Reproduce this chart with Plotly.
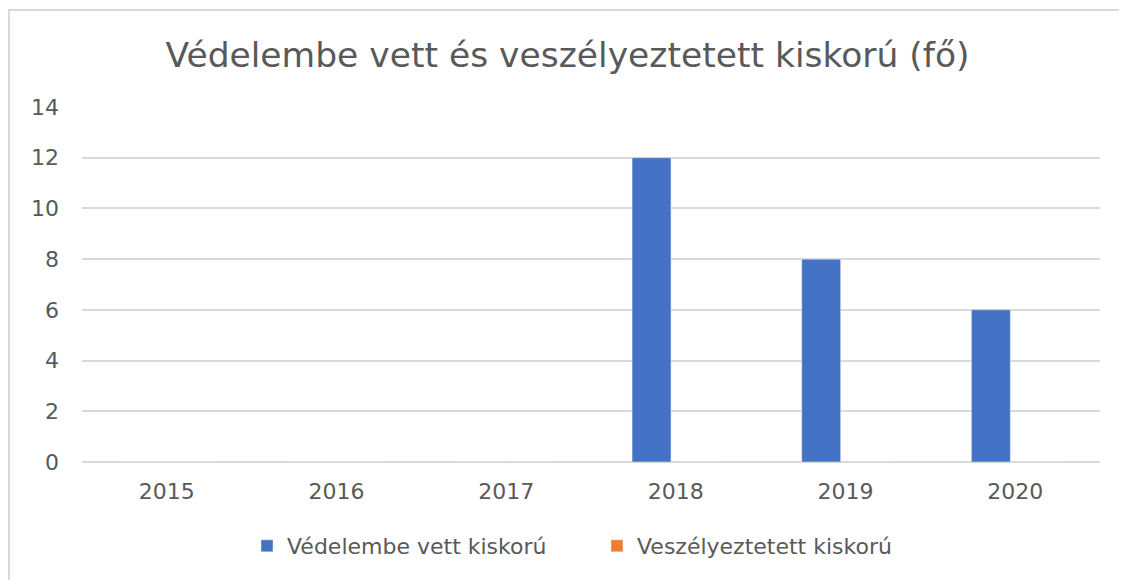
import plotly.graph_objects as go

years = ["2015", "2016", "2017", "2018", "2019", "2020"]
vedelembe = [0, 0, 0, 12, 8, 6]
veszelyeztetett = [0, 0, 0, 0, 0, 0]
series_names = ["Védelembe vett kiskorú", "Veszélyeztetett kiskorú"]
title_text = "Védelembe vett és veszélyeztetett kiskorú (fő)"

FONT = "DejaVu Sans"
GREY = "#595959"
OFF = 8  # page body margin

fig = go.Figure()
fig.add_trace(go.Bar(x=years, y=vedelembe, name=series_names[0], marker_color="#4472C4"))
fig.add_trace(go.Bar(x=years, y=veszelyeztetett, name=series_names[1], marker_color="#ED7D31"))

W, H = 1127 - OFF, 580 - OFF
ml, mt = 82 - OFF, 107 - OFF
mr, mb = 27, 118
pw, ph = W - ml - mr, H - mt - mb

def px(x):  # page x -> paper
    return (x - OFF - ml) / pw

def py(y):  # page y -> paper
    return (H - mb - (y - OFF)) / ph

fig.update_layout(
    width=W, height=H,
    margin=dict(l=ml, r=mr, t=mt, b=mb),
    paper_bgcolor="white", plot_bgcolor="white",
    barmode="group", bargap=0.427, bargroupgap=0.2,
    title=dict(text=title_text, x=0.5, xanchor="center", y=1 - (55 - OFF) / H, yanchor="middle",
               font=dict(family=FONT, size=34.5, color=GREY)),
    font=dict(family=FONT, color=GREY),
    showlegend=True,
    legend=dict(orientation="h", x=px(597), xanchor="center", y=py(546), yanchor="middle",
                font=dict(family=FONT, size=22, color=GREY), itemwidth=30,
                entrywidth=305, entrywidthmode="pixels",
                traceorder="normal"),
    xaxis=dict(showgrid=False, showline=False, ticks="", tickfont=dict(size=22, color=GREY),
               ticklabelstandoff=14, automargin=False),
    yaxis=dict(range=[0, 14], dtick=2, showgrid=True, gridcolor="#d9d9d9", gridwidth=2,
               zeroline=True, zerolinecolor="#d9d9d9", zerolinewidth=2,
               showline=False, ticks="", tickfont=dict(size=22, color=GREY),
               ticklabelstandoff=22, automargin=False),
    shapes=[dict(type="rect", xref="paper", yref="paper",
                 x0=px(OFF + 1), x1=px(1135), y0=py(600), y1=py(10),
                 line=dict(color="#d9d9d9", width=2), fillcolor="rgba(0,0,0,0)", layer="below")],
)

fig.write_html("out.html")
